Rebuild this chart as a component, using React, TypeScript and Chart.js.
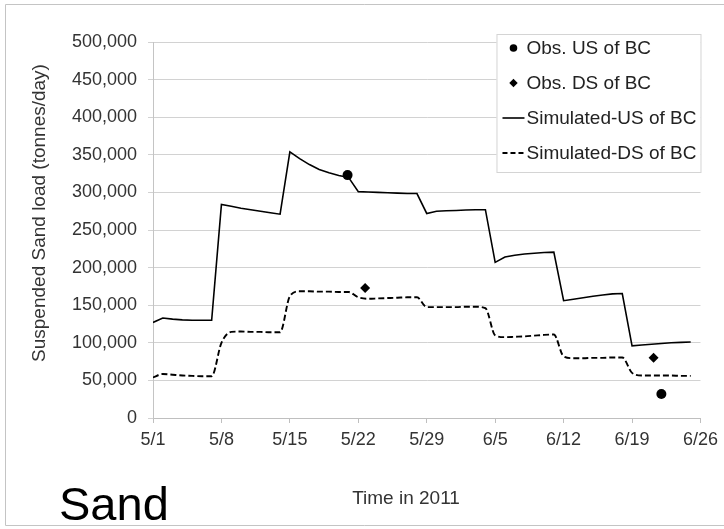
import React, { useEffect, useRef } from 'react';
import { Chart, registerables } from 'chart.js';

Chart.register(...registerables);

// ---- data ----
const xTickLabels = ['5/1', '5/8', '5/15', '5/22', '5/29', '6/5', '6/12', '6/19', '6/26'];

// daily values, index = days after 5/1
const simulatedUS = [
  127000, 133000, 131500, 130500, 130000, 130000, 130000,
  284000, 281500, 279000, 277000, 275000, 273000, 271000,
  354000, 345000, 337000, 330500, 326000, 322500, 320000,
  301000, 300500, 300000, 299500, 299000, 298500, 298500,
  272000, 275000, 275500, 276000, 276500, 277000, 277000,
  207000, 214000, 216500, 218000, 219000, 220000, 220500,
  156000, 158000, 160000, 162000, 163500, 165000, 165500,
  96000, 97000, 98000, 99000, 100000, 100500, 101000,
];

const simulatedDS = [
  54000, 58500, 57500, 56500, 56000, 55500, 55500,
  100000, 114500, 115000, 114500, 114500, 114000, 114000,
  162000, 168500, 168500, 168000, 168000, 167500, 167500,
  160500, 158500, 159000, 159500, 160000, 160500, 160500,
  147500, 147500, 147500, 147500, 148000, 148000, 146000,
  110000, 107500, 108000, 108500, 109500, 110500, 111000,
  82000, 79500, 79500, 80000, 80000, 80500, 80500,
  60000, 56500, 56500, 56500, 56500, 56000, 56000,
];

const obsUSDay = [19.9, 52.0];
const obsUSLoad = [323000, 32000];
const obsDSDay = [21.7, 51.2];
const obsDSLoad = [173000, 80000];

const seriesLabels = ['Obs. US of BC', 'Obs. DS of BC', 'Simulated-US of BC', 'Simulated-DS of BC'];
const yTitle = 'Suspended Sand load (tonnes/day)';
const xTitle = 'Time in 2011';
const sideLabel = 'Sand';

const FONT = '"Liberation Sans", Arial, Helvetica, sans-serif';
const TEXT = '#333333';

const decorPlugin = {
  id: 'decor',
  beforeDraw(chart: any) {
    const ctx = chart.ctx;
    ctx.save();
    ctx.fillStyle = '#ffffff';
    ctx.fillRect(0, 0, chart.width, chart.height);
    ctx.strokeStyle = '#c4c4c4';
    ctx.lineWidth = 1;
    ctx.beginPath();
    ctx.moveTo(chart.width, 4.5);
    ctx.lineTo(5.5, 4.5);
    ctx.lineTo(5.5, 525.5);
    ctx.lineTo(chart.width, 525.5);
    ctx.stroke();
    ctx.restore();
  },
  afterDraw(chart: any) {
    const ctx = chart.ctx;
    const area = chart.chartArea;
    ctx.save();

    // legend box
    const bx = area.right - 204;
    const by = area.top - 8;
    const bw = 204;
    const bh = 138;
    ctx.fillStyle = '#ffffff';
    ctx.fillRect(bx, by, bw, bh);
    ctx.strokeStyle = '#d4d4d4';
    ctx.lineWidth = 1;
    ctx.strokeRect(bx + 0.5, by + 0.5, bw, bh);

    const rows = [by + 14, by + 49, by + 84, by + 119];
    const sx = bx + 17;
    ctx.fillStyle = '#000';
    ctx.strokeStyle = '#000';
    // circle
    ctx.beginPath();
    ctx.arc(sx, rows[0], 3.8, 0, Math.PI * 2);
    ctx.fill();
    // diamond
    ctx.beginPath();
    ctx.moveTo(sx, rows[1] - 4.2);
    ctx.lineTo(sx + 4.2, rows[1]);
    ctx.lineTo(sx, rows[1] + 4.2);
    ctx.lineTo(sx - 4.2, rows[1]);
    ctx.closePath();
    ctx.fill();
    // solid line
    ctx.lineWidth = 1.6;
    ctx.beginPath();
    ctx.moveTo(sx - 11, rows[2]);
    ctx.lineTo(sx + 11, rows[2]);
    ctx.stroke();
    // dashed line
    ctx.lineWidth = 1.8;
    ctx.setLineDash([5, 3]);
    ctx.beginPath();
    ctx.moveTo(sx - 11, rows[3]);
    ctx.lineTo(sx + 11, rows[3]);
    ctx.stroke();
    ctx.setLineDash([]);

    ctx.fillStyle = '#222';
    ctx.font = `19px ${FONT}`;
    ctx.textAlign = 'left';
    ctx.textBaseline = 'middle';
    seriesLabels.forEach((t, i) => ctx.fillText(t, sx + 13, rows[i] + 1));

    // y title
    ctx.fillStyle = TEXT;
    ctx.font = `19px ${FONT}`;
    ctx.save();
    ctx.translate(40, 213);
    ctx.rotate(-Math.PI / 2);
    ctx.textAlign = 'center';
    ctx.textBaseline = 'middle';
    ctx.fillText(yTitle, 0, 0);
    ctx.restore();

    // x title
    ctx.font = `19px ${FONT}`;
    ctx.textAlign = 'center';
    ctx.textBaseline = 'alphabetic';
    ctx.fillText(xTitle, 406, 504);

    // side label
    ctx.fillStyle = '#000';
    ctx.font = `47px ${FONT}`;
    ctx.textAlign = 'left';
    ctx.fillText(sideLabel, 59, 520);

    ctx.restore();
  },
};

export default function App() {
  const ref = useRef<HTMLCanvasElement | null>(null);

  useEffect(() => {
    const canvas = ref.current;
    if (!canvas) return;

    const usPoints = simulatedUS.map((v, i) => ({ x: i, y: v }));
    const dsPoints = simulatedDS.map((v, i) => ({ x: i, y: v }));
    const obsUS = obsUSDay.map((d, i) => ({ x: d, y: obsUSLoad[i] }));
    const obsDS = obsDSDay.map((d, i) => ({ x: d, y: obsDSLoad[i] }));

    const chart = new Chart(canvas, {
      type: 'line',
      data: {
        datasets: [
          {
            label: seriesLabels[0],
            data: obsUS,
            showLine: false,
            pointStyle: 'circle',
            pointRadius: 5,
            backgroundColor: '#000',
            borderColor: '#000',
            borderWidth: 0,
            order: 0,
          },
          {
            label: seriesLabels[1],
            data: obsDS,
            showLine: false,
            pointStyle: 'rectRot',
            pointRadius: 5,
            backgroundColor: '#000',
            borderColor: '#000',
            borderWidth: 0,
            order: 0,
          },
          {
            label: seriesLabels[2],
            data: usPoints,
            borderColor: '#000',
            borderWidth: 1.6,
            pointRadius: 0,
            tension: 0,
            fill: false,
            order: 1,
          },
          {
            label: seriesLabels[3],
            data: dsPoints,
            borderColor: '#000',
            borderWidth: 1.9,
            borderDash: [6, 3],
            pointRadius: 0,
            cubicInterpolationMode: 'monotone',
            fill: false,
            order: 1,
          },
        ],
      },
      options: {
        responsive: false,
        animation: false,
        devicePixelRatio: 1,
        layout: { padding: { top: 42, right: 22, left: 0, bottom: 0 } },
        plugins: {
          legend: { display: false },
          tooltip: { enabled: false },
          title: { display: false },
        },
        scales: {
          x: {
            type: 'linear',
            min: 0,
            max: 56,
            afterFit: (s: any) => { s.height = 111; },
            ticks: {
              stepSize: 7,
              autoSkip: false,
              maxRotation: 0,
              padding: 6,
              color: TEXT,
              font: { family: FONT, size: 18 },
              callback: (v: any) => {
                const idx = Math.round(Number(v) / 7);
                return xTickLabels[idx] ?? '';
              },
            },
            grid: {
              drawOnChartArea: false,
              drawTicks: true,
              tickLength: 5,
              color: '#bfbfbf',
            },
            border: { display: true, color: '#bfbfbf' },
          },
          y: {
            min: 0,
            max: 500000,
            afterFit: (s: any) => { s.width = 153; },
            ticks: {
              stepSize: 50000,
              padding: 11,
              color: TEXT,
              font: { family: FONT, size: 18 },
              callback: (v: any) => Number(v).toLocaleString('en-US'),
            },
            grid: {
              color: '#d2d2d2',
              tickLength: 5,
              lineWidth: 1,
            },
            border: { display: true, color: '#c4c4c4' },
          },
        },
      },
      plugins: [decorPlugin],
    });

    return () => chart.destroy();
  }, []);

  return (
    <div style={{ position: 'absolute', left: 0, top: 0, width: 724, height: 529, background: '#fff' }}>
      <canvas ref={ref} width={724} height={529} style={{ width: 724, height: 529, display: 'block' }} />
    </div>
  );
}
